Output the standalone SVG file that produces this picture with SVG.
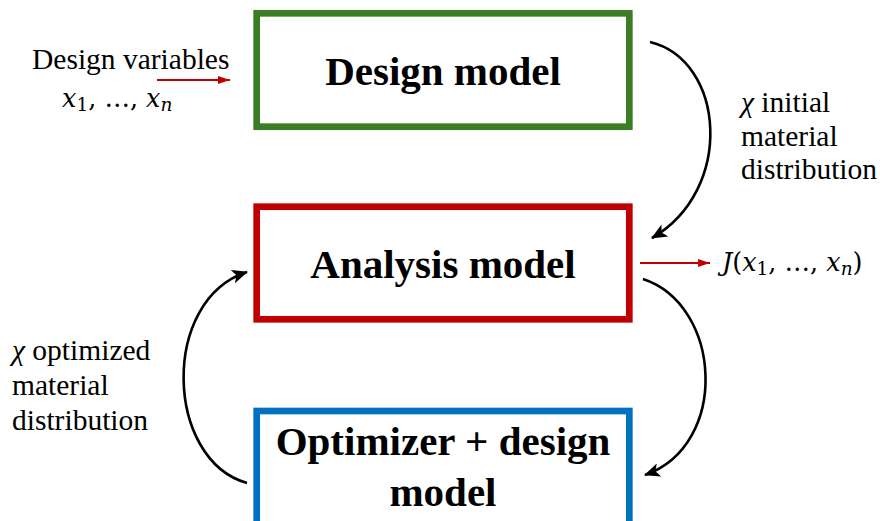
<svg xmlns="http://www.w3.org/2000/svg" width="880" height="521" viewBox="0 0 880 521">
  <style>
    .box { fill: #ffffff; stroke-width: 6.7; }
    .title { font-weight: bold; font-size: 41px; fill: #000; text-anchor: middle; }
    .label { font-size: 29.5px; fill: #000; }
    .math { font-size: 25.5px; fill: #000; }
    .it { font-style: italic; }
    .sub { font-size: 18.5px; }
    .flow { fill: none; stroke: #000; stroke-width: 2.6; marker-end: url(#headBlack); }
    .out { fill: none; stroke: #c00000; stroke-width: 2.2; marker-end: url(#headRed); }
  </style>
  <defs>
    <marker id="headBlack" viewBox="0 0 16 14" refX="15" refY="7" markerWidth="16" markerHeight="14" markerUnits="userSpaceOnUse" orient="auto">
      <path d="M0,0 L16,7 L0,14 L4,7 z" fill="#000"/>
    </marker>
    <marker id="headRed" viewBox="0 0 12 8" refX="12" refY="4" markerWidth="12" markerHeight="8" markerUnits="userSpaceOnUse" orient="auto">
      <path d="M0,0 L12,4 L0,8 z" fill="#c00000"/>
    </marker>
  </defs>

  <rect width="880" height="521" fill="#ffffff"/>

  <!-- boxes -->
  <g id="design-model" font-family="Liberation Serif, serif">
    <rect class="box" x="256.7" y="13.3" width="372.6" height="113.4" stroke="#3a7d22"/>
    <text class="title" x="443" y="85">Design model</text>
  </g>
  <g id="analysis-model" font-family="Liberation Serif, serif">
    <rect class="box" x="256.7" y="206.7" width="372.6" height="112.6" stroke="#c00000"/>
    <text class="title" x="443" y="278">Analysis model</text>
  </g>
  <g id="optimizer" font-family="Liberation Serif, serif">
    <rect class="box" x="256.7" y="411" width="372.6" height="130" stroke="#0070c0"/>
    <text class="title" x="443" y="455">Optimizer + design</text>
    <text class="title" x="443" y="506">model</text>
  </g>

  <!-- connectors -->
  <g id="connectors">
    <line class="out" x1="157" y1="80" x2="230" y2="80"/>
    <line class="out" x1="640" y1="263" x2="710" y2="263"/>
    <path class="flow" d="M650,42 C725,60 735,190 652,238"/>
    <path class="flow" d="M643,279 C722,305 730,445 645,475"/>
    <path class="flow" d="M247,483 C165,460 160,300 247,272"/>
  </g>

  <!-- labels -->
  <g id="labels" font-family="Liberation Serif, serif">
    <text class="label" x="32" y="69">Design variables</text>
    <text class="math" x="62" y="107" font-family="DejaVu Serif, serif"><tspan class="it">x</tspan><tspan class="sub" dy="4">1</tspan><tspan dy="-4">, …, </tspan><tspan class="it">x</tspan><tspan class="sub it" dy="4">n</tspan></text>

    <text class="math" x="722" y="271" font-family="DejaVu Serif, serif"><tspan class="it">J</tspan>(<tspan class="it">x</tspan><tspan class="sub" dy="4">1</tspan><tspan dy="-4">, …, </tspan><tspan class="it">x</tspan><tspan class="sub it" dy="4">n</tspan><tspan dy="-4">)</tspan></text>

    <text class="label" x="741" y="112"><tspan class="it">χ</tspan> initial</text>
    <text class="label" x="741" y="146">material</text>
    <text class="label" x="741" y="179">distribution</text>

    <text class="label" x="12" y="360"><tspan class="it">χ</tspan> optimized</text>
    <text class="label" x="12" y="395">material</text>
    <text class="label" x="12" y="430">distribution</text>
  </g>
</svg>
